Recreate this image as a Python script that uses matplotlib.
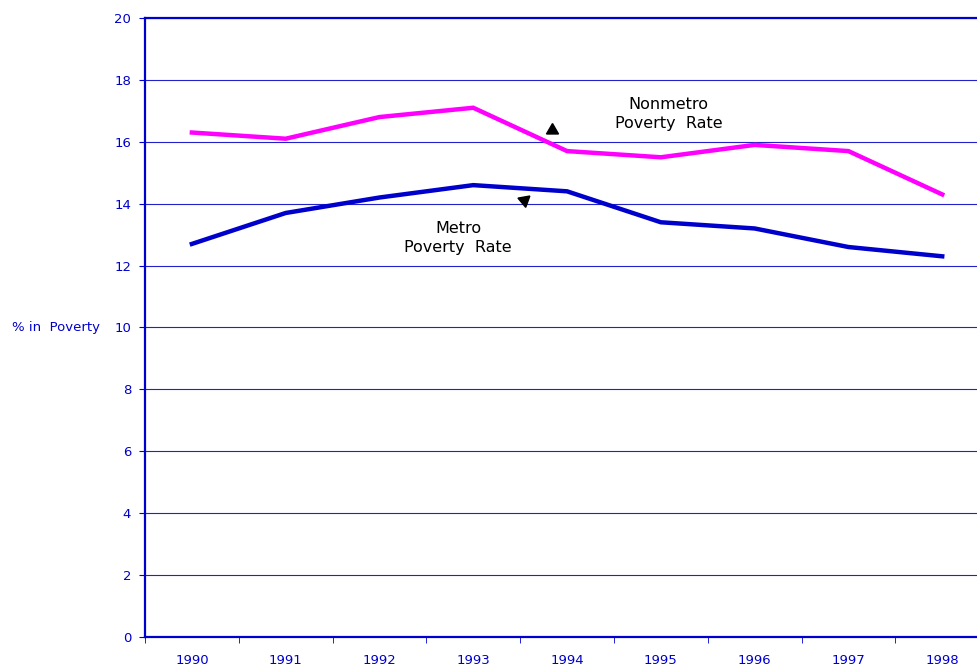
import numpy as np
import matplotlib as mpl
mpl.use('Agg')
import matplotlib.pyplot as plt

years = ['1990', '1991', '1992', '1993', '1994', '1995', '1996', '1997', '1998']
nonmetro = [16.3, 16.1, 16.8, 17.1, 15.7, 15.5, 15.9, 15.7, 14.3]
metro = [12.7, 13.7, 14.2, 14.6, 14.4, 13.4, 13.2, 12.6, 12.3]

plt.rcParams['font.family'] = ['DejaVu Sans']

blue = '#0000CC'
fig = plt.figure(figsize=(9.77, 6.67), dpi=100)
# plot area runs a little past the right edge of the picture
ax = fig.add_axes([0.1484, 0.045, 0.864, 0.928])

x = np.arange(len(years))
ax.plot(x, nonmetro, color='#FF00FF', lw=3.2, solid_joinstyle='miter')
ax.plot(x, metro, color=blue, lw=3.2, solid_joinstyle='miter')

ax.set_xlim(-0.5, 8.5)
ax.set_ylim(0, 20)
ax.set_yticks(range(0, 21, 2))
ax.set_xticks(x)
ax.set_xticklabels(years)
ax.set_xticks(np.arange(-0.5, 9, 1), minor=True)
ax.tick_params(axis='x', which='major', length=0, pad=12, colors=blue, labelsize=9.5)
ax.tick_params(axis='x', which='minor', length=4, color=blue, direction='out')
ax.tick_params(axis='y', length=4, color=blue, labelcolor=blue, labelsize=9.5, pad=6)
ax.grid(axis='y', color='#2222CC', lw=0.8)
ax.set_axisbelow(True)

ax.spines['right'].set_visible(False)
ax.spines['top'].set_visible(False)
ax.spines['left'].set_color(blue)
ax.spines['bottom'].set_color(blue)
ax.spines['left'].set_linewidth(1.6)
ax.spines['bottom'].set_linewidth(1.6)
ax.axhline(20, color=blue, lw=1.6, clip_on=False)

ax.text(-0.158, 0.5, '% in  Poverty', transform=ax.transAxes, color=blue,
        fontsize=9.5, ha='left', va='center')

ax.text(5.08, 16.91, 'Nonmetro\nPoverty  Rate', ha='center', va='center',
        fontsize=11.5, linespacing=1.35)
ax.text(2.84, 12.88, 'Metro\nPoverty  Rate', ha='center', va='center',
        fontsize=11.5, linespacing=1.35)
ax.plot([3.84], [16.37], marker=(3, 0, 0), color='black', ms=10)
ax.plot([3.54], [14.12], marker=(3, 0, 190), color='black', ms=10)

fig.savefig('out.png', dpi=100)
